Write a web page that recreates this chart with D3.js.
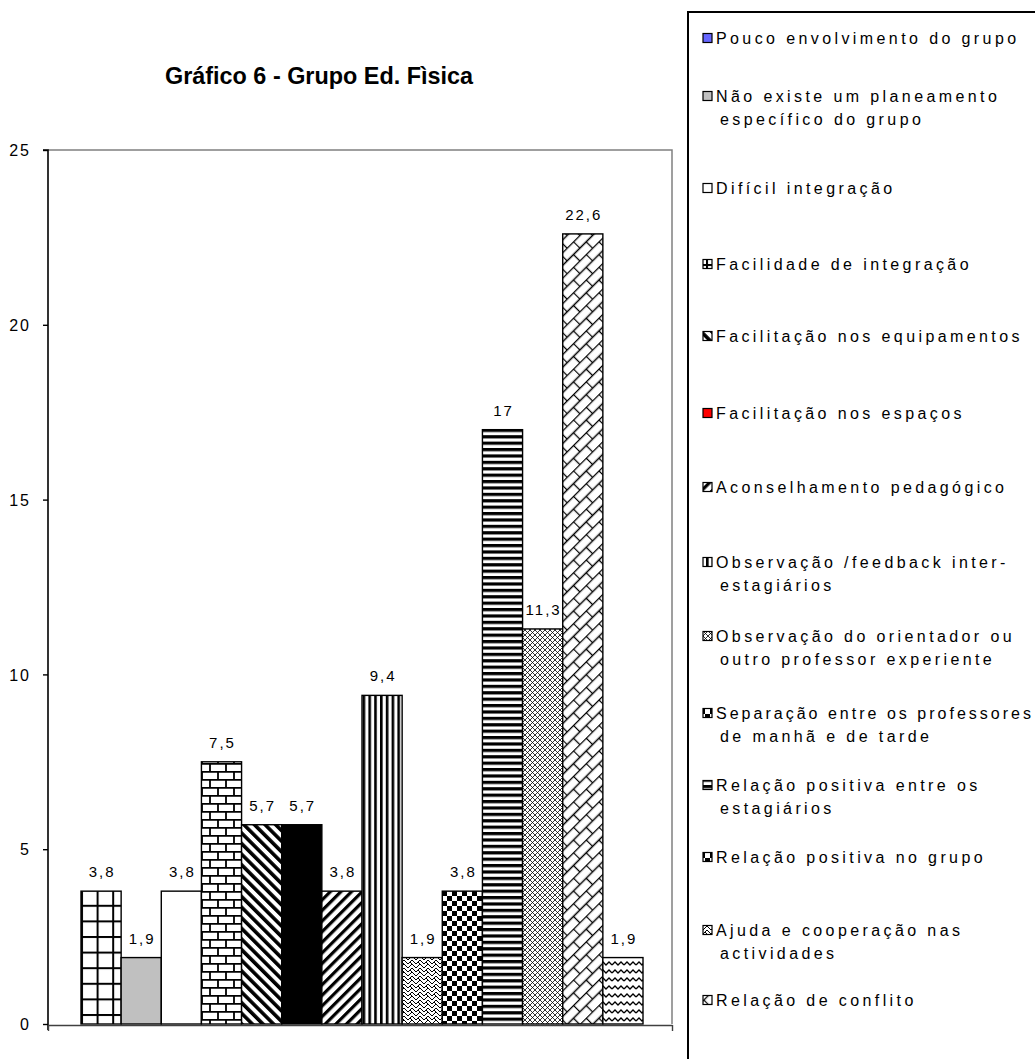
<!DOCTYPE html>
<html>
<head>
<meta charset="utf-8">
<script src="https://cdn.jsdelivr.net/npm/d3@7/dist/d3.min.js"></script>
<style>
  html, body { margin: 0; padding: 0; background: #fff; }
  svg { display: block; }
  .lbl { font-family: "Liberation Sans", Arial, sans-serif; font-size: 15px; letter-spacing: 2px; fill: #000; }
  .leg { font-family: "Liberation Sans", Arial, sans-serif; font-size: 16px; fill: #000; }
</style>
</head>
<body>
<svg id="chart" width="1035" height="1059"></svg>
<script>
// chart data
const title = 'Gráfico 6 - Grupo Ed. Fìsica';
const categories = [
  'Pouco envolvimento do grupo',
  'Não existe um planeamento\nespecífico do grupo',
  'Difícil integração',
  'Facilidade de integração',
  'Facilitação nos equipamentos',
  'Facilitação nos espaços',
  'Aconselhamento pedagógico',
  'Observação /feedback inter-\nestagiários',
  'Observação do orientador ou\noutro professor experiente',
  'Separação entre os professores\nde manhã e de tarde',
  'Relação positiva entre os\nestagiários',
  'Relação positiva no grupo',
  'Ajuda e cooperação nas\nactividades',
  'Relação de conflito'
];
const values = [3.8, 1.9, 3.8, 7.5, 5.7, 5.7, 3.8, 9.4, 1.9, 3.8, 17, 11.3, 22.6, 1.9];
const yTicks = [0, 5, 10, 15, 20, 25];
// fill of each bar, and of its legend key (the legend keys were drawn differently)
const barFills = ['grid', 'gray', 'white', 'brick', 'diagDown', 'black', 'diagUp', 'vert',
  'weave', 'checker', 'horiz', 'fineDiamond', 'diagBrick', 'wave'];
const keyFills = ['blue', 'gray', 'white', 'grid', 'diagDown', 'red', 'diagUp', 'vert',
  'fineDiamond', 'checker', 'horiz', 'checker', 'weave', 'diagBrick'];

// layout: first-line y of each legend row, as placed in the original legend
const legendRowY = [38, 96, 188, 264, 336, 413, 487, 562, 636, 713, 785, 857, 930, 1000];

const svg = d3.select('#chart');
const plot = { left: 48, right: 672, top: 150, bottom: 1024 };

// pattern fills
const defs = svg.append('defs');
const pat = (id, w, h, transform) => {
  const p = defs.append('pattern').attr('id', id)
    .attr('patternUnits', 'userSpaceOnUse').attr('width', w).attr('height', h);
  if (transform) p.attr('patternTransform', transform);
  p.append('rect').attr('width', w).attr('height', h).attr('fill', '#fff');
  return p;
};
let p = pat('grid', 15.6, 15.6, 'translate(81,0)');
p.append('rect').attr('width', 2).attr('height', 15.6);
p.append('rect').attr('width', 15.6).attr('height', 2);
p = pat('brick', 16, 16, 'translate(81,891)');
p.append('path').attr('d', 'M0,0.8H16M0,8.8H16M1,0V8M9,8V16').attr('stroke', '#000').attr('stroke-width', 1.8);
p = pat('diagDown', 7.5, 10, 'rotate(-45)');
p.append('rect').attr('width', 3.6).attr('height', 10);
p = pat('diagUp', 7.5, 10, 'rotate(45)');
p.append('rect').attr('width', 3.2).attr('height', 10);
p = pat('vert', 5.8, 10, 'translate(322,0)');
p.append('rect').attr('width', 2.6).attr('height', 10);
p = pat('horiz', 10, 6.4);
p.append('rect').attr('width', 10).attr('height', 3.2);
p = pat('checker', 10, 10, 'translate(442,891)');
p.append('rect').attr('width', 5).attr('height', 5);
p.append('rect').attr('x', 5).attr('y', 5).attr('width', 5).attr('height', 5);
p = pat('fineDiamond', 5, 5);
p.append('path').attr('d', 'M0,0L5,5M5,0L0,5').attr('stroke', '#000').attr('stroke-width', 0.8);
p = pat('weave', 8, 8);
p.append('path').attr('d', 'M0,8L4,4L8,8M0,4L4,0L8,4M2,2L4,4M6,6L8,8')
  .attr('stroke', '#000').attr('stroke-width', 1).attr('fill', 'none');
p = pat('diagBrick', 18, 18, 'rotate(-45)');
p.append('path').attr('d', 'M0,0.5H18M0,9.5H18M0.5,0V9M9.5,9V18').attr('stroke', '#000').attr('stroke-width', 1.3);
p = pat('wave', 12, 8);
p.append('path').attr('d', 'M0,5L3,2L6,5L9,2L12,5').attr('stroke', '#000').attr('stroke-width', 1.3).attr('fill', 'none');

const solid = { gray: '#c0c0c0', white: '#fff', black: '#000', blue: '#6666ff', red: '#ff0000' };
const fillOf = k => solid[k] || `url(#${k})`;

// scales
const x = d3.scaleBand().domain(d3.range(values.length)).range([81, 643]).paddingInner(0);
const y = d3.scaleLinear().domain([0, 25]).range([plot.bottom, plot.top]);

// title
svg.append('text')
  .attr('x', 319).attr('y', 84)
  .attr('text-anchor', 'middle')
  .attr('textLength', 308).attr('lengthAdjust', 'spacingAndGlyphs')
  .style('font-family', '"Liberation Sans Narrow", "Liberation Sans", Arial, sans-serif')
  .style('font-weight', 'bold').style('font-size', '24px')
  .text(title);

// plot frame (top and right)
svg.append('path')
  .attr('d', `M${plot.left},${plot.top}H${plot.right}V${plot.bottom}`)
  .attr('fill', 'none').attr('stroke', '#808080').attr('stroke-width', 1.5);

// bars
svg.append('g').selectAll('rect').data(values).join('rect')
  .attr('x', (d, i) => x(i))
  .attr('y', d => y(d))
  .attr('width', x.bandwidth())
  .attr('height', d => y(0) - y(d))
  .attr('fill', (d, i) => fillOf(barFills[i]))
  .attr('stroke', '#000').attr('stroke-width', 1.4);

// data labels
svg.append('g').selectAll('text').data(values).join('text')
  .attr('class', 'lbl')
  .attr('x', (d, i) => x(i) + x.bandwidth() / 2 + 1)
  .attr('y', d => y(d) - 14)
  .attr('text-anchor', 'middle')
  .text(d => String(d).replace('.', ','));

// y axis
const yAxis = svg.append('g')
  .attr('transform', `translate(${plot.left},0)`)
  .call(d3.axisLeft(y).tickValues(yTicks).tickSize(5).tickPadding(12));
yAxis.select('.domain').attr('stroke', '#000').attr('stroke-width', 1.6)
  .attr('d', `M-5,${plot.top}H0V${plot.bottom + 6}`);
yAxis.selectAll('.tick line').attr('stroke', '#000').attr('stroke-width', 1.4);
yAxis.selectAll('.tick text').attr('class', 'lbl').style('font-size', '16px').attr('dy', '0.35em');

// x axis (single category, ticks at the ends)
const xEdge = d3.scaleLinear().domain([0, 1]).range([plot.left, plot.right]);
const xAxis = svg.append('g')
  .attr('transform', `translate(0,${plot.bottom + 1})`)
  .call(d3.axisBottom(xEdge).tickValues([0, 1]).tickFormat('').tickSize(6).tickSizeOuter(0));
xAxis.select('.domain').attr('stroke', '#404040').attr('stroke-width', 1.6);
xAxis.selectAll('.tick line').attr('stroke', '#404040').attr('stroke-width', 1.4);

// legend box
svg.append('path')
  .attr('d', 'M1040,12H688V1065')
  .attr('fill', 'none').attr('stroke', '#000').attr('stroke-width', 2);

const legX = 703;
const lineGap = 23;
const spacing = 3.4;
const maxRight = 1034;
const leg = svg.append('g').selectAll('g').data(categories).join('g')
  .attr('transform', (d, i) => `translate(${legX},${legendRowY[i]})`);
leg.each(function (d, i) {
  const g = d3.select(this);
  const lines = d.split('\n');
  g.append('rect')
    .attr('x', 0).attr('y', -4.5).attr('width', 9).attr('height', 9)
    .attr('fill', fillOf(keyFills[i])).attr('stroke', '#000').attr('stroke-width', 1.2);
  lines.forEach((t, k) => {
    const tx = k === 0 ? 13 : 17;
    const txt = g.append('text').attr('class', 'leg')
      .attr('x', tx)
      .attr('y', k * lineGap)
      .attr('dy', '0.35em')
      .style('letter-spacing', `${spacing}px`)
      .text(t);
    // tighten a line that would run past the right edge
    const w = txt.node().getComputedTextLength();
    const over = legX + tx + w - maxRight;
    if (over > 0) txt.style('letter-spacing', `${spacing - over / t.length}px`);
  });
});
</script>
</body>
</html>
